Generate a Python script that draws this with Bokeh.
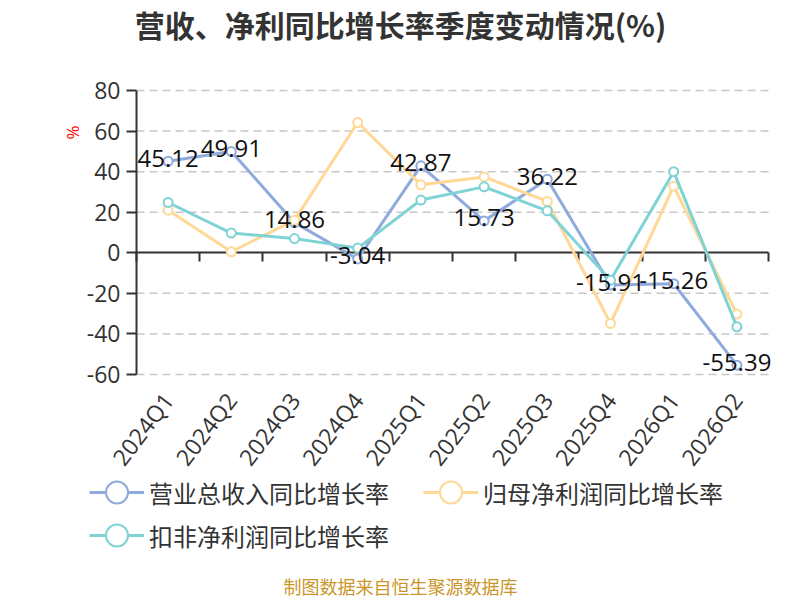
import math
from bokeh.plotting import figure
from bokeh.models import (Range1d, LinearAxis, FixedTicker, ColumnDataSource,
                          LabelSet, Label, Legend, LegendItem)
from bokeh.embed import file_html
from bokeh.resources import INLINE
from bokeh.core.properties import value

# ---------------- data ----------------
quarters = ["2024Q1", "2024Q2", "2024Q3", "2024Q4", "2025Q1",
            "2025Q2", "2025Q3", "2025Q4", "2026Q1", "2026Q2"]
revenue_yoy = [45.12, 49.91, 14.86, -3.04, 42.87, 15.73, 36.22, -15.91, -15.26, -55.39]
parent_np_yoy = [21.0, 0.5, 16.1, 64.2, 33.5, 37.4, 25.3, -34.8, 32.8, -30.2]
deducted_np_yoy = [24.8, 9.7, 7.0, 2.3, 26.0, 32.5, 20.7, -13.5, 40.0, -36.5]
series_names = ["营业总收入同比增长率", "归母净利润同比增长率", "扣非净利润同比增长率"]
y_ticks = [-60, -40, -20, 0, 20, 40, 60, 80]
title_text = "营收、净利同比增长率季度变动情况(%)"
unit_text = "%"
source_text = "制图数据来自恒生聚源数据库"

# ---------------- style / layout ----------------
colors = ["#8faadc", "#ffd896", "#7fd3d4"]
axis_color = "#333333"
num_font = "Open Sans"
cjk_font = "Noto Sans CJK SC"

W, H = 800, 600
PLOT_L, PLOT_R = 136, 768        # pixel extent of the category axis
PLOT_T, PLOT_B = 90, 374         # pixel extent of the value axis

n = len(quarters)
xpos = [i + 0.5 for i in range(n)]          # band centres
bounds = list(range(n + 1))                 # band boundaries
band_px = (PLOT_R - PLOT_L) / n
ymin, ymax = y_ticks[0], y_ticks[-1]
ppu = (PLOT_B - PLOT_T) / (ymax - ymin)

x_range = Range1d(-PLOT_L / band_px, (W - PLOT_L) / band_px)
y_range = Range1d(ymin - (H - PLOT_B) / ppu, ymax + PLOT_T / ppu)

p = figure(width=W, height=H, x_range=x_range, y_range=y_range,
           x_axis_location=None, y_axis_location=None,
           output_backend="svg", toolbar_location=None,
           min_border=0)
p.outline_line_color = None
p.background_fill_color = "white"
p.border_fill_color = "white"
for g in p.grid:
    g.visible = False

# horizontal dashed grid lines spanning the category axis
grid_src = ColumnDataSource(dict(y=[t for t in y_ticks if t != 0]))
p.segment(x0=0, x1=n, y0="y", y1="y", source=grid_src, level="underlay",
          line_color="#c8c8c8", line_dash="8 5", line_width=1.5)

# y axis
ya = LinearAxis(fixed_location=0, bounds=(ymin, ymax),
                ticker=FixedTicker(ticks=y_ticks),
                major_label_overrides={t: str(t) for t in y_ticks},
                axis_line_color=axis_color, axis_line_width=2,
                major_tick_line_color=axis_color, major_tick_line_width=2,
                major_tick_out=10, major_tick_in=0, minor_tick_line_color=None,
                major_label_text_font=num_font, major_label_text_font_size="23px",
                major_label_text_color=axis_color, major_label_standoff=6)
p.add_layout(ya, "left")

# category labels at the bottom of the value axis
xa = LinearAxis(fixed_location=ymin, bounds=(0, n),
                ticker=FixedTicker(ticks=xpos),
                major_label_overrides={x: q for x, q in zip(xpos, quarters)},
                axis_line_color=None, major_tick_line_color=None,
                major_tick_out=0, major_tick_in=0, minor_tick_line_color=None,
                major_label_orientation=0.92,
                major_label_text_font=num_font, major_label_text_font_size="23px",
                major_label_text_color=axis_color, major_label_standoff=21)
p.add_layout(xa, "below")

# zero line with band-boundary ticks
zero_axis = LinearAxis(fixed_location=0, bounds=(0, n),
                       ticker=FixedTicker(ticks=bounds),
                       axis_line_color=axis_color, axis_line_width=2,
                       major_tick_line_color=axis_color, major_tick_line_width=2,
                       major_tick_out=9, major_tick_in=0,
                       minor_tick_line_color=None,
                       major_label_overrides={b: " " for b in bounds},
                       major_label_text_font_size="1px")
zero_axis.level = "underlay"
p.add_layout(zero_axis, "below")

# series
renderers = []
for vals, c in zip([revenue_yoy, parent_np_yoy, deducted_np_yoy], colors):
    src = ColumnDataSource(dict(x=xpos, y=vals))
    ln = p.line("x", "y", source=src, line_color=c, line_width=3)
    sc = p.scatter("x", "y", source=src, size=9, fill_color="white",
                   line_color=c, line_width=2)
    renderers.append((ln, sc))

# data labels for revenue
lab_src = ColumnDataSource(dict(x=xpos, y=revenue_yoy,
                                t=[f"{v:.2f}" for v in revenue_yoy]))
p.add_layout(LabelSet(x="x", y="y", text="t", source=lab_src,
                      text_align="center", text_baseline="middle", y_offset=3,
                      text_font=value(num_font), text_font_size="24px",
                      text_color="#111111"))

# legends (two rows)
GH = 58
leg_common = dict(orientation="horizontal", glyph_width=55, glyph_height=GH,
                  label_standoff=5, spacing=34, padding=0, margin=0,
                  border_line_color=None, background_fill_alpha=0,
                  label_text_font=cjk_font, label_text_font_size="24px",
                  label_text_color=axis_color)
legend1 = Legend(items=[LegendItem(label=series_names[0], renderers=list(renderers[0])),
                        LegendItem(label=series_names[1], renderers=list(renderers[1]))],
                 location=(89, H - (492 + GH / 2)), **leg_common)
legend2 = Legend(items=[LegendItem(label=series_names[2], renderers=list(renderers[2]))],
                 location=(89, H - (535 + GH / 2)), **leg_common)
p.add_layout(legend1, "center")
p.add_layout(legend2, "center")

# title, unit, source (screen units: x from left, y from bottom)
p.add_layout(Label(x=W / 2, y=H - 23.5, x_units="screen", y_units="screen",
                   text=title_text, text_align="center", text_baseline="middle",
                   text_font=cjk_font, text_font_size="30px", text_font_style="bold",
                   text_color=axis_color))
p.add_layout(Label(x=72, y=H - 132, x_units="screen", y_units="screen",
                   text=unit_text, angle=math.pi / 2, text_align="center",
                   text_baseline="middle", text_font=num_font, text_font_size="17px",
                   text_color="#ff0000"))
p.add_layout(Label(x=W / 2, y=H - 585, x_units="screen", y_units="screen",
                   text=source_text, text_align="center", text_baseline="middle",
                   text_font=cjk_font, text_font_size="18px", text_color="#c9962a"))

open("out.html", "w").write(file_html(p, INLINE))
